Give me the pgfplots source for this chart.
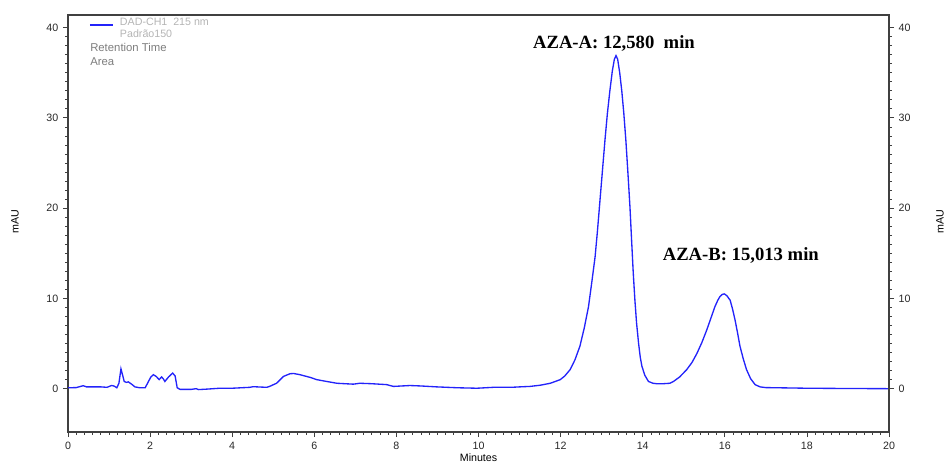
\documentclass[border=0pt]{standalone}
\usepackage{pgfplots}
\pgfplotsset{compat=1.18}
\usepackage{fontspec}
\setmainfont{Liberation Sans}
\newfontfamily\timesf{Liberation Serif}
\definecolor{lineblue}{RGB}{35,35,250}
\definecolor{axgray}{RGB}{64,64,64}
\definecolor{lightlab}{RGB}{180,180,180}
\definecolor{midlab}{RGB}{125,125,125}
\definecolor{ticklab}{RGB}{40,40,40}

\pgfplotstableread{
x y
0 0.1
0.2 0.12
0.37 0.33
0.45 0.2
0.8 0.2
0.95 0.15
1.06 0.35
1.12 0.3
1.19 0.1
1.24 0.6
1.29 2.2
1.33 1.5
1.37 0.8
1.42 0.7
1.47 0.75
1.55 0.5
1.63 0.2
1.75 0.1
1.88 0.1
1.96 0.8
2.02 1.3
2.08 1.55
2.15 1.35
2.22 1.0
2.28 1.3
2.32 1.1
2.36 0.8
2.45 1.3
2.55 1.73
2.61 1.4
2.66 0.1
2.73 -0.08
3.0 -0.08
3.12 0.0
3.18 -0.1
3.38 -0.05
3.7 0.05
4.0 0.05
4.43 0.15
4.51 0.22
4.84 0.15
4.92 0.27
5.08 0.6
5.25 1.36
5.41 1.66
5.5 1.68
5.65 1.55
5.9 1.25
6.06 1.0
6.3 0.8
6.55 0.6
6.95 0.5
7.11 0.6
7.4 0.55
7.76 0.45
7.93 0.25
8.33 0.35
8.6 0.3
8.98 0.2
9.5 0.1
9.96 0.05
10.36 0.15
10.8 0.15
11.0 0.2
11.25 0.25
11.5 0.38
11.75 0.6
11.99 1.0
12.1 1.4
12.23 2.1
12.35 3.2
12.47 4.7
12.58 6.8
12.68 9.1
12.76 11.8
12.84 14.6
12.90 17.6
12.96 20.9
13.02 24.2
13.08 27.5
13.14 30.5
13.20 33.0
13.26 35.2
13.31 36.5
13.35 36.9
13.39 36.5
13.44 35.0
13.49 33.0
13.54 30.5
13.59 27.5
13.64 23.9
13.69 20.1
13.73 16.4
13.77 12.8
13.81 9.8
13.85 7.3
13.90 5.0
13.94 3.5
13.98 2.5
14.05 1.5
14.14 0.8
14.25 0.6
14.34 0.55
14.5 0.55
14.66 0.6
14.75 0.8
14.9 1.3
15.07 2.1
15.2 2.9
15.32 3.9
15.44 5.1
15.56 6.5
15.66 7.8
15.76 9.1
15.83 9.8
15.88 10.2
15.94 10.45
15.99 10.5
16.05 10.3
16.13 9.8
16.19 8.8
16.25 7.6
16.31 6.2
16.37 4.7
16.45 3.3
16.53 2.1
16.63 1.1
16.74 0.44
16.86 0.2
17.0 0.12
17.3 0.1
18 0.05
19 0.02
20 0.0
}\chrom

\begin{document}
\begin{tikzpicture}
\pgfplotsset{
 common/.style={
  scale only axis, width=615.75pt, height=312.75pt,
  xmin=0, xmax=20, ymin=-4.8, ymax=41.4,
  ytick={0,10,...,40}, minor y tick num=9,
  tick align=outside, major tick length=3.75pt, minor tick length=2pt,
  every tick/.style={axgray, line width=0.6pt},
  axis line style={axgray, line width=0.8pt},
  tick label style={font=\fontsize{8}{9}\selectfont, text=ticklab},
  /pgf/number format/assume math mode=true,
 }
}
\begin{axis}[common,
  xtick={0,2,...,20}, minor x tick num=9,
  xtick pos=left, ytick pos=left,
  legend style={at={(axis description cs:0.0205,1.009)}, anchor=north west,
    draw=none, fill=none, font=\fontsize{8}{9}\selectfont, text=lightlab},
  legend cell align=left,
  legend image post style={draw=lineblue, line width=1.1pt},
]
\addplot[lineblue, line width=1pt] table[x=x, y=y] {\chrom};
\addlegendentry{\begin{tabular}{@{\hspace{3pt}}l@{}}DAD-CH1~~215 nm\\Padrão150\end{tabular}}
\node[anchor=west, text=midlab, font=\fontsize{8.5}{10}\selectfont, inner sep=0pt] at (axis description cs:0.0268,0.921) {Retention Time};
\node[anchor=west, text=midlab, font=\fontsize{8.5}{10}\selectfont, inner sep=0pt] at (axis description cs:0.0268,0.887) {Area};
\node[font=\timesf\bfseries\fontsize{14}{16}\selectfont] at (axis cs:13.30,38.2) {AZA-A: 12,580~~min};
\node[font=\timesf\bfseries\fontsize{14}{16}\selectfont] at (axis cs:16.39,14.74) {AZA-B: 15,013 min};
\end{axis}
\begin{axis}[common, axis x line=none, axis y line*=right, ytick pos=right, yticklabel pos=right]
\end{axis}
\node[rotate=90, font=\fontsize{8}{9}\selectfont] at (-39.75pt,157.5pt) {mAU};
\node[rotate=90, font=\fontsize{8}{9}\selectfont] at (654pt,157.5pt) {mAU};
\node[font=\fontsize{8}{9}\selectfont] at (307.9pt,-19.5pt) {Minutes};
\pgfresetboundingbox
\path (-51pt,-21.75pt) rectangle (657.75pt,324pt);
\end{tikzpicture}
\end{document}
